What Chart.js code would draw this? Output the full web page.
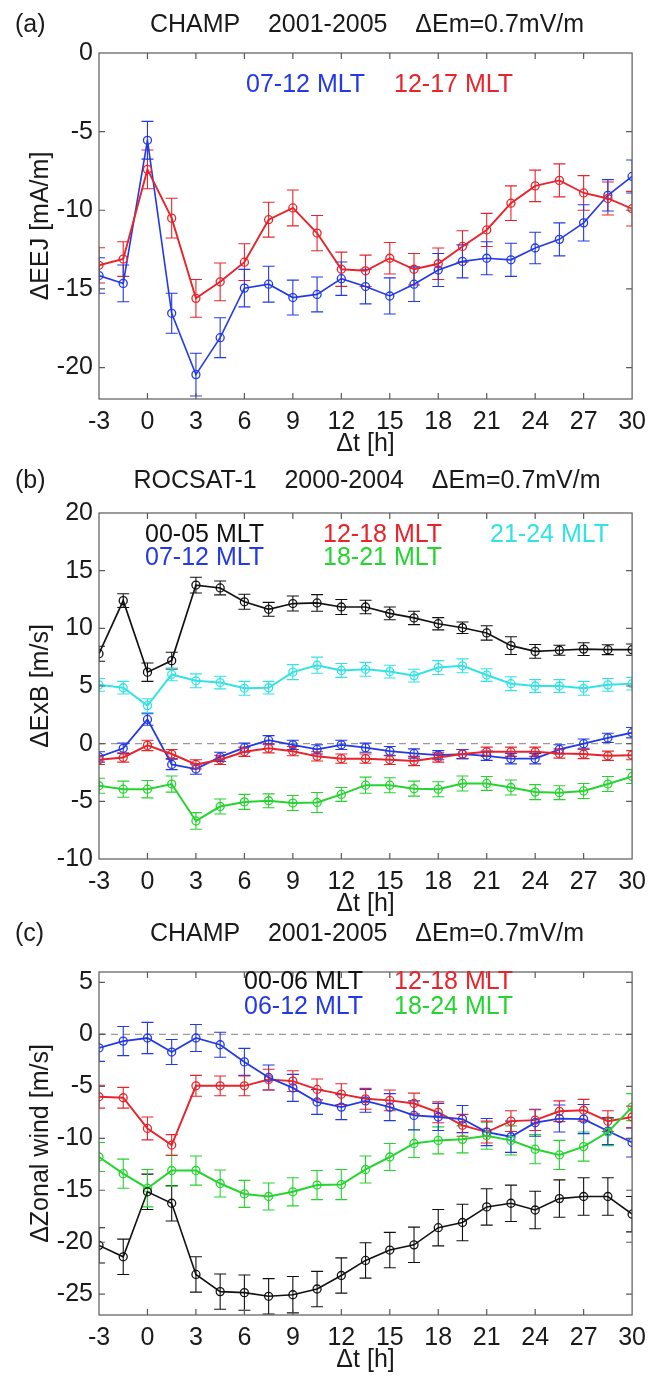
<!DOCTYPE html>
<html>
<head>
<meta charset="utf-8">
<script src="https://cdn.jsdelivr.net/npm/chart.js@4.4.1/dist/chart.umd.min.js"></script>
<style>
  body { margin: 0; background: #fff; width: 654px; height: 1376px; position: relative; overflow: hidden; }
  .panel { position: absolute; left: 0; width: 654px; }
</style>
</head>
<body>
<div class="panel" style="top:0;height:460px"><canvas id="chartA"></canvas></div>
<div class="panel" style="top:460px;height:460px"><canvas id="chartB"></canvas></div>
<div class="panel" style="top:920px;height:456px"><canvas id="chartC"></canvas></div>
<script>
// time after the Em step, hours
var t = [-3, -1.5, 0, 1.5, 3, 4.5, 6, 7.5, 9, 10.5, 12, 13.5, 15, 16.5, 18, 19.5, 21, 22.5, 24, 25.5, 27, 28.5, 30];

// (a) CHAMP dEEJ [mA/m]
var eej0712 = [-14.15, -14.65, -5.55, -16.55, -20.45, -18.1, -14.95, -14.7, -15.55, -15.35, -14.35, -14.85, -15.45, -14.7, -13.8, -13.25, -13.05, -13.15, -12.4, -11.85, -10.8, -9.05, -7.85];
var eej0712Err = [1.13, 1.17, 1.2, 1.27, 1.36, 1.27, 1.19, 1.14, 1.11, 1.11, 1.06, 1.1, 1.15, 1.1, 1.05, 1.05, 1.05, 1.05, 1.0, 1.05, 1.15, 1.0, 1.05];
var eej1217 = [-13.5, -13.1, -7.4, -10.5, -15.6, -14.55, -13.3, -10.6, -9.85, -11.45, -13.75, -13.85, -13.05, -13.75, -13.4, -12.3, -11.25, -9.55, -8.45, -8.1, -8.9, -9.25, -9.9];
var eej1217Err = [1.12, 1.1, 1.23, 1.26, 1.2, 1.2, 1.17, 1.11, 1.14, 1.12, 1.09, 1.0, 1.0, 1.0, 1.0, 1.0, 1.05, 1.1, 1.0, 1.05, 1.1, 1.05, 1.1];

// (b) ROCSAT-1 dExB [m/s]
var exb0005 = [7.8, 12.4, 6.2, 7.2, 13.75, 13.5, 12.3, 11.65, 12.15, 12.2, 11.85, 11.85, 11.3, 10.9, 10.4, 10.05, 9.6, 8.5, 8.0, 8.1, 8.2, 8.15, 8.15];
var exb0005Err = [0.65, 0.6, 0.8, 0.72, 0.68, 0.6, 0.65, 0.6, 0.65, 0.72, 0.65, 0.58, 0.55, 0.58, 0.53, 0.5, 0.62, 0.77, 0.6, 0.43, 0.55, 0.43, 0.49];
var exb2124 = [5.1, 4.85, 3.3, 6.0, 5.45, 5.3, 4.8, 4.85, 6.2, 6.8, 6.35, 6.45, 6.25, 5.9, 6.6, 6.75, 5.95, 5.2, 5.0, 5.0, 4.8, 5.1, 5.2];
var exb2124Err = [0.55, 0.55, 0.6, 0.55, 0.6, 0.55, 0.6, 0.55, 0.65, 0.7, 0.6, 0.6, 0.55, 0.55, 0.6, 0.6, 0.55, 0.6, 0.55, 0.55, 0.6, 0.55, 0.55];
var exb0712 = [-1.15, -0.4, 2.1, -1.8, -2.2, -1.15, -0.35, 0.3, -0.1, -0.5, -0.1, -0.35, -0.65, -0.85, -1.0, -0.9, -1.05, -1.3, -1.3, -0.5, 0.0, 0.5, 0.95];
var exb0712Err = [0.45, 0.45, 0.5, 0.45, 0.45, 0.4, 0.4, 0.4, 0.4, 0.4, 0.4, 0.4, 0.4, 0.4, 0.4, 0.4, 0.4, 0.45, 0.45, 0.4, 0.4, 0.4, 0.45];
var exb1218 = [-1.4, -1.2, -0.15, -0.9, -1.8, -1.4, -0.7, -0.4, -0.65, -1.1, -1.3, -1.3, -1.4, -1.5, -1.2, -0.9, -0.7, -0.7, -0.7, -0.85, -0.9, -1.05, -1.0];
var exb1218Err = [0.4, 0.4, 0.45, 0.4, 0.4, 0.4, 0.4, 0.4, 0.4, 0.4, 0.4, 0.4, 0.4, 0.4, 0.4, 0.4, 0.4, 0.4, 0.4, 0.4, 0.4, 0.4, 0.4];
var exb1821 = [-3.65, -3.95, -3.95, -3.5, -6.7, -5.45, -5.05, -4.95, -5.15, -5.1, -4.4, -3.6, -3.6, -3.9, -3.95, -3.45, -3.45, -3.8, -4.2, -4.25, -4.1, -3.5, -2.85];
var exb1821Err = [0.65, 0.7, 0.75, 0.7, 0.72, 0.65, 0.65, 0.6, 0.65, 0.87, 0.6, 0.7, 0.65, 0.65, 0.65, 0.65, 0.6, 0.65, 0.65, 0.6, 0.65, 0.65, 0.6];

// (c) CHAMP dZonal wind [m/s]
var wind0612 = [-1.3, -0.65, -0.35, -1.7, -0.35, -1.0, -2.65, -4.15, -5.15, -6.5, -7.0, -6.4, -7.0, -7.8, -7.95, -8.15, -9.4, -9.85, -8.5, -8.1, -8.15, -9.3, -10.4];
var wind0612Err = [1.3, 1.4, 1.5, 1.2, 1.3, 1.2, 1.3, 1.2, 1.3, 1.2, 1.2, 1.1, 1.3, 1.4, 1.3, 1.3, 1.3, 1.5, 1.3, 1.3, 1.4, 1.3, 1.4];
var wind1218 = [-6.0, -6.1, -9.05, -10.65, -4.95, -4.95, -4.95, -4.35, -4.5, -5.3, -5.75, -6.2, -6.35, -6.65, -7.5, -8.75, -9.4, -8.35, -8.25, -7.4, -7.3, -8.35, -7.95];
var wind1218Err = [1.1, 1.0, 1.1, 1.0, 1.0, 0.95, 0.95, 1.0, 1.0, 1.0, 1.0, 1.0, 1.0, 1.0, 1.0, 1.05, 1.05, 1.0, 1.0, 1.0, 1.05, 1.0, 1.05];
var wind1824 = [-11.8, -13.4, -14.8, -13.1, -13.1, -14.35, -15.35, -15.6, -15.15, -14.5, -14.45, -13.0, -11.8, -10.5, -10.2, -10.1, -9.75, -10.2, -11.05, -11.6, -10.8, -9.4, -7.0];
var wind1824Err = [1.4, 1.4, 1.8, 1.5, 1.4, 1.3, 1.3, 1.3, 1.35, 1.4, 1.45, 1.3, 1.3, 1.35, 1.3, 1.3, 1.3, 1.4, 1.4, 1.4, 1.4, 1.3, 1.3];
var wind0006 = [-20.3, -21.4, -15.15, -16.25, -23.1, -24.75, -24.85, -25.2, -25.05, -24.5, -23.2, -21.75, -20.75, -20.25, -18.6, -18.1, -16.6, -16.25, -16.9, -15.8, -15.6, -15.6, -17.3];
var wind0006Err = [1.7, 1.7, 1.7, 1.7, 1.7, 1.7, 1.7, 1.7, 1.75, 1.7, 1.7, 1.7, 1.7, 1.7, 1.75, 1.75, 1.75, 1.75, 1.8, 1.8, 1.8, 1.8, 1.7];

var BLUE = '#2339e6', RED = '#e8242a', BLACK = '#111111', CYAN = '#33e3e3', GREEN = '#25d42f';
var FONT = '"Liberation Sans", Arial, sans-serif';

Chart.defaults.font.family = FONT;
Chart.defaults.font.size = 25;
Chart.defaults.color = '#1a1a1a';

function series(label, vals, errs, color, width) {
  return {
    label: label,
    data: t.map(function (x, i) { return { x: x, y: vals[i] }; }),
    err: errs,
    borderColor: color,
    backgroundColor: 'rgba(0,0,0,0)',
    pointBorderColor: color,
    pointBackgroundColor: 'rgba(0,0,0,0)',
    pointRadius: 4,
    pointBorderWidth: 1.3,
    borderWidth: width || 1.7,
    tension: 0
  };
}

// matlab like axes: error bars, boxed axes with inward ticks, zero line, texts
var matlabPlugin = {
  id: 'matlab',
  beforeDatasetsDraw: function (chart, args, opts) {
    var ctx = chart.ctx, a = chart.chartArea;
    var xs = chart.scales.x, ys = chart.scales.y;
    ctx.save();
    if (opts.zeroLine) {
      var y0 = ys.getPixelForValue(0);
      ctx.strokeStyle = '#9a9a9a';
      ctx.lineWidth = 1.2;
      ctx.setLineDash([7, 5]);
      ctx.beginPath(); ctx.moveTo(a.left, y0); ctx.lineTo(a.right, y0); ctx.stroke();
      ctx.setLineDash([]);
    }
    ctx.beginPath(); ctx.rect(a.left, a.top, a.right - a.left, a.bottom - a.top); ctx.clip();
    chart.data.datasets.forEach(function (ds) {
      ctx.strokeStyle = ds.borderColor;
      ctx.lineWidth = 1.1;
      ds.data.forEach(function (p, i) {
        var x = xs.getPixelForValue(p.x);
        var yt = ys.getPixelForValue(p.y + ds.err[i]);
        var yb = ys.getPixelForValue(p.y - ds.err[i]);
        ctx.beginPath();
        ctx.moveTo(x, yt); ctx.lineTo(x, yb);
        ctx.moveTo(x - 6, yt); ctx.lineTo(x + 6, yt);
        ctx.moveTo(x - 6, yb); ctx.lineTo(x + 6, yb);
        ctx.stroke();
      });
    });
    ctx.restore();
  },
  afterDraw: function (chart, args, opts) {
    var ctx = chart.ctx, a = chart.chartArea;
    var xs = chart.scales.x, ys = chart.scales.y;
    ctx.save();
    ctx.strokeStyle = '#5a5a5a';
    ctx.lineWidth = 1.2;
    ctx.strokeRect(a.left, a.top, a.right - a.left, a.bottom - a.top);
    ctx.beginPath();
    xs.ticks.forEach(function (tk) {
      var x = xs.getPixelForValue(tk.value);
      if (x <= a.left + 1 || x >= a.right - 1) return;
      ctx.moveTo(x, a.bottom); ctx.lineTo(x, a.bottom - 6);
      ctx.moveTo(x, a.top); ctx.lineTo(x, a.top + 6);
    });
    ys.ticks.forEach(function (tk) {
      var y = ys.getPixelForValue(tk.value);
      if (y <= a.top + 1 || y >= a.bottom - 1) return;
      ctx.moveTo(a.left, y); ctx.lineTo(a.left + 6, y);
      ctx.moveTo(a.right, y); ctx.lineTo(a.right - 6, y);
    });
    ctx.stroke();

    ctx.font = '25px ' + FONT;
    ctx.textBaseline = 'middle';
    ctx.fillStyle = '#1a1a1a';
    ctx.textAlign = 'left';
    ctx.fillText(opts.tag, 15, opts.titleY);
    ctx.textAlign = 'center';
    ctx.fillText(opts.title, 367, opts.titleY);
    ctx.textAlign = 'left';
    opts.legend.forEach(function (l) {
      ctx.fillStyle = l[1];
      ctx.fillText(l[0], l[2], l[3]);
    });
    ctx.restore();
  }
};

function makeChart(id, datasets, yMin, yMax, yTitle, top, opts) {
  return new Chart(document.getElementById(id), {
    type: 'line',
    data: { datasets: datasets },
    options: {
      responsive: true,
      maintainAspectRatio: false,
      animation: false,
      layout: { padding: { left: 0, right: 15, top: top, bottom: 0 } },
      plugins: { legend: { display: false }, tooltip: { enabled: false }, matlab: opts },
      scales: {
        x: {
          type: 'linear', min: -3, max: 30,
          grid: { display: false, drawTicks: false },
          border: { display: false },
          ticks: { stepSize: 3, padding: 8, maxRotation: 0, includeBounds: false },
          title: { display: true, text: 'Δt [h]', padding: { top: 0, bottom: 1 } },
          afterFit: function (s) { s.height = 61; }
        },
        y: {
          min: yMin, max: yMax,
          grid: { display: false, drawTicks: false },
          border: { display: false },
          ticks: { stepSize: 5, padding: 6, includeBounds: false },
          title: { display: true, text: yTitle, padding: { top: 26, bottom: 0 } },
          afterFit: function (s) { s.width = 99; }
        }
      }
    },
    plugins: [matlabPlugin]
  });
}

makeChart('chartA', [
  series('12-17 MLT', eej1217, eej1217Err, RED, 1.9),
  series('07-12 MLT', eej0712, eej0712Err, BLUE, 1.6)
], -22, 0, 'ΔEEJ [mA/m]', 53, {
  tag: '(a)', title: 'CHAMP    2001-2005    ΔEm=0.7mV/m', titleY: 25, zeroLine: false,
  legend: [['07-12 MLT', BLUE, 246, 85], ['12-17 MLT', RED, 394, 85]]
});

makeChart('chartB', [
  series('00-05 MLT', exb0005, exb0005Err, BLACK, 1.7),
  series('21-24 MLT', exb2124, exb2124Err, CYAN, 2.0),
  series('12-18 MLT', exb1218, exb1218Err, RED, 2.0),
  series('07-12 MLT', exb0712, exb0712Err, BLUE, 1.8),
  series('18-21 MLT', exb1821, exb1821Err, GREEN, 2.0)
], -10, 20, 'ΔExB [m/s]', 53, {
  tag: '(b)', title: 'ROCSAT-1    2000-2004    ΔEm=0.7mV/m', titleY: 21, zeroLine: true,
  legend: [['00-05 MLT', BLACK, 145, 75], ['12-18 MLT', RED, 323, 75], ['21-24 MLT', CYAN, 490, 75],
           ['07-12 MLT', BLUE, 145, 98], ['18-21 MLT', GREEN, 323, 98]]
});

makeChart('chartC', [
  series('00-06 MLT', wind0006, wind0006Err, BLACK, 1.6),
  series('18-24 MLT', wind1824, wind1824Err, GREEN, 2.0),
  series('06-12 MLT', wind0612, wind0612Err, BLUE, 1.8),
  series('12-18 MLT', wind1218, wind1218Err, RED, 1.9)
], -27, 6, 'ΔZonal wind [m/s]', 52, {
  tag: '(c)', title: 'CHAMP    2001-2005    ΔEm=0.7mV/m', titleY: 14, zeroLine: true,
  legend: [['00-06 MLT', BLACK, 244, 62], ['12-18 MLT', RED, 394, 62],
           ['06-12 MLT', BLUE, 244, 87], ['18-24 MLT', GREEN, 394, 87]]
});
</script>
</body>
</html>
